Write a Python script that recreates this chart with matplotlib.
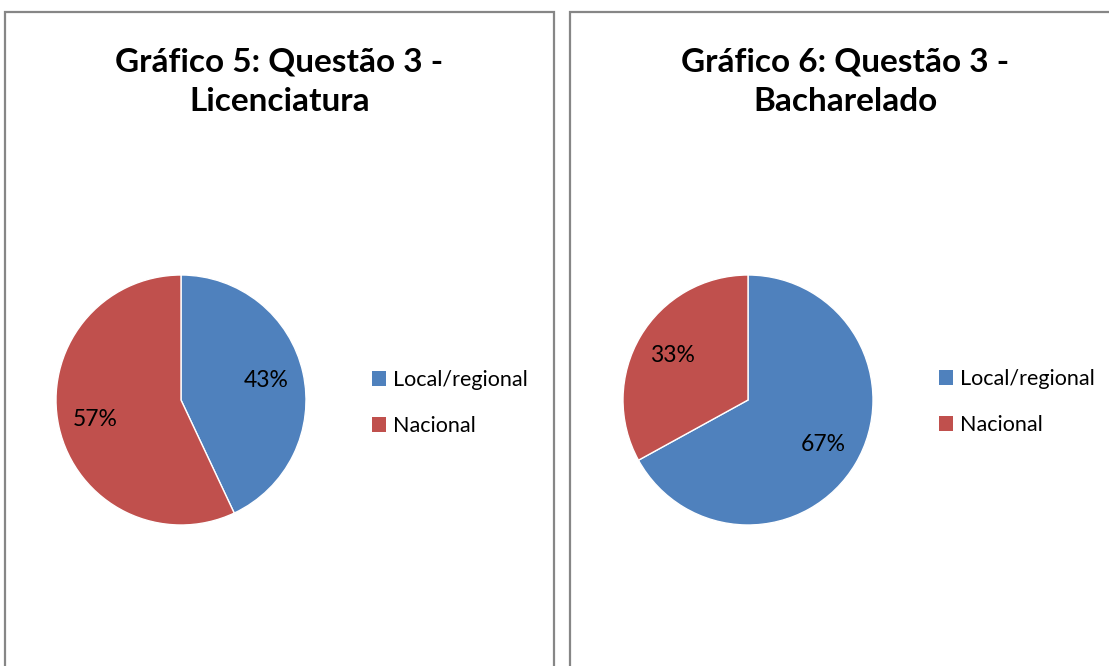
import matplotlib
matplotlib.use("Agg")
import matplotlib.pyplot as plt
from matplotlib.patches import Rectangle, Patch

plt.rcParams['font.family'] = ['Lato', 'DejaVu Sans']

categorias = ["Local/regional", "Nacional"]
licenciatura = [43, 57]
bacharelado = [67, 33]
titulos = ["Gráfico 5: Questão 3 -\nLicenciatura", "Gráfico 6: Questão 3 -\nBacharelado"]
cores = ["#4F81BD", "#C0504D"]

W, H = 1109, 666
fig = plt.figure(figsize=(W / 100, H / 100), dpi=100)

def px(x0, y0, w, h):
    # pixel box (top-left origin) -> figure fraction
    return [x0 / W, 1 - (y0 + h) / H, w / W, h / H]

paineis = [
    dict(box=(5, 12, 549, 700), pie=(56, 275, 250, 250), leg=(353, 403), dados=licenciatura),
    dict(box=(570, 12, 550, 700), pie=(623, 275, 250, 250), leg=(920, 402), dados=bacharelado),
]

for p, titulo in zip(paineis, titulos):
    bx, by, bw, bh = p['box']
    fig.patches.append(Rectangle((bx / W, 1 - (by + bh) / H), bw / W, bh / H,
                                 transform=fig.transFigure, fill=False,
                                 edgecolor="#868686", linewidth=1.6, clip_on=False))
    fig.text((bx + bw / 2) / W, 1 - 82 / H, titulo, ha='center', va='center',
             fontsize=24, fontweight='bold', linespacing=1.45)

    ax = fig.add_axes(px(*p['pie']))
    ax.pie(p['dados'], colors=cores, startangle=90, counterclock=False,
           autopct='%1.0f%%', pctdistance=0.7,
           wedgeprops=dict(edgecolor='white', linewidth=1),
           textprops=dict(fontsize=16.5, color='black'))
    ax.set_xlim(-1, 1)
    ax.set_ylim(-1, 1)
    ax.set_aspect('equal')
    ax.axis('off')

    handles = [Patch(facecolor=c) for c in cores]
    lx, ly = p['leg']
    fig.legend(handles, categorias, loc='center left',
               bbox_to_anchor=(lx / W, 1 - ly / H), frameon=False,
               fontsize=15.5, handlelength=0.65, handleheight=0.65,
               handletextpad=0.3, labelspacing=1.2)

fig.savefig("out.png", dpi=100)
